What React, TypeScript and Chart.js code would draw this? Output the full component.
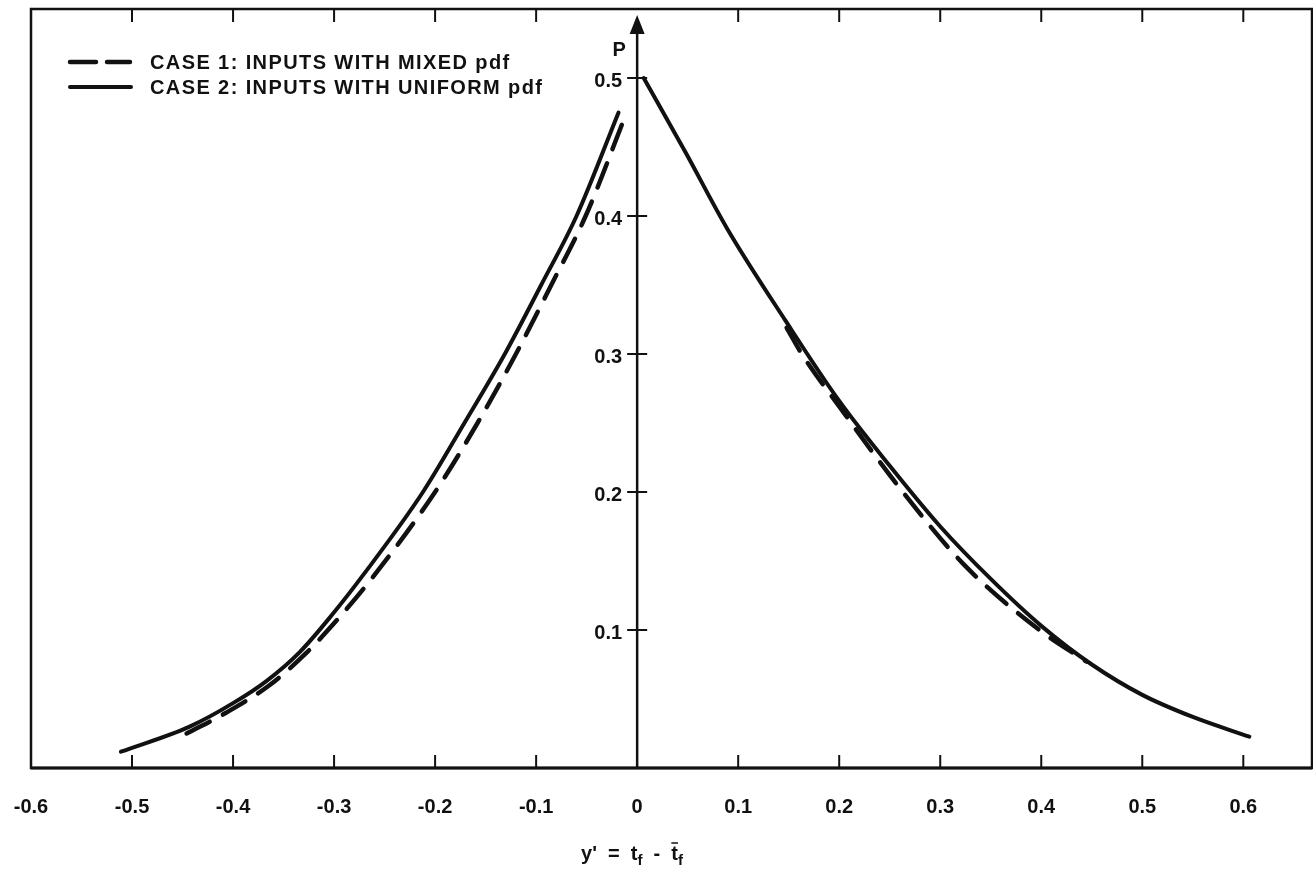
import React, { useEffect, useRef } from 'react';
import { Chart, registerables } from 'chart.js';

Chart.register(...registerables);

// ---- data ----
const xTickValues = [-0.6, -0.5, -0.4, -0.3, -0.2, -0.1, 0, 0.1, 0.2, 0.3, 0.4, 0.5, 0.6];
const yTickValues = [0.1, 0.2, 0.3, 0.4, 0.5];

const legendLabels = ['CASE 1: INPUTS WITH MIXED pdf', 'CASE 2: INPUTS WITH UNIFORM pdf'];

// Case 1 (dashed) – mixed pdf
const case1LeftX = [-0.446, -0.407, -0.364, -0.328, -0.295, -0.262, -0.2, -0.158, -0.12, -0.085, -0.051, -0.0104];
const case1LeftP = [0.025, 0.04, 0.06, 0.083, 0.109, 0.138, 0.2, 0.25, 0.3, 0.35, 0.4, 0.475];
const case1RightX = [0.148, 0.163, 0.2, 0.263, 0.324, 0.4, 0.445];
const case1RightP = [0.319, 0.3, 0.262, 0.2, 0.147, 0.099, 0.077];

// Case 2 (solid) – uniform pdf
const case2LeftX = [-0.511, -0.443, -0.4, -0.367, -0.334, -0.302, -0.27, -0.212, -0.171, -0.131, -0.095, -0.06, -0.0184];
const case2LeftP = [0.0118, 0.03, 0.047, 0.063, 0.084, 0.111, 0.141, 0.2, 0.25, 0.3, 0.35, 0.4, 0.475];
const case2RightX = [0.0065, 0.048, 0.089, 0.147, 0.2, 0.25, 0.3, 0.35, 0.4, 0.45, 0.5, 0.55, 0.606];
const case2RightP = [0.5, 0.446, 0.391, 0.324, 0.266, 0.219, 0.175, 0.137, 0.103, 0.075, 0.053, 0.037, 0.0227];

const FONT = '"Liberation Sans", Arial, sans-serif';
const INK = '#111111';

function pts(xs: number[], ys: number[]) {
  return xs.map((x, i) => ({ x, y: ys[i] }));
}

function seg(ctx: CanvasRenderingContext2D, x1: number, y1: number, x2: number, y2: number) {
  ctx.beginPath();
  ctx.moveTo(x1, y1);
  ctx.lineTo(x2, y2);
  ctx.stroke();
}

const decor = {
  id: 'decor',
  afterDraw(chart: any) {
    const { ctx, chartArea: a, scales } = chart;
    const xs = scales.x;
    const ys = scales.y;
    ctx.save();
    ctx.strokeStyle = INK;
    ctx.fillStyle = INK;
    ctx.lineCap = 'butt';

    // frame
    ctx.lineWidth = 2.5;
    ctx.strokeRect(a.left, a.top, a.right - a.left, a.bottom - a.top);
    ctx.lineWidth = 3;
    seg(ctx, a.left, a.bottom, a.right, a.bottom);

    // inward tick marks on top and bottom
    ctx.lineWidth = 2;
    for (const v of xTickValues) {
      if (v === 0 || v <= -0.6) continue;
      const px = xs.getPixelForValue(v);
      seg(ctx, px, a.top, px, a.top + 13);
      seg(ctx, px, a.bottom, px, a.bottom - 13);
    }

    // vertical P axis with arrow
    const x0 = xs.getPixelForValue(0);
    ctx.lineWidth = 2.5;
    seg(ctx, x0, a.bottom, x0, 30);
    ctx.beginPath();
    ctx.moveTo(x0, 15);
    ctx.lineTo(x0 - 7.5, 34);
    ctx.lineTo(x0 + 7.5, 34);
    ctx.closePath();
    ctx.fill();

    // crossing ticks and labels on P axis
    ctx.font = `bold 20px ${FONT}`;
    ctx.textAlign = 'right';
    ctx.textBaseline = 'middle';
    for (const v of yTickValues) {
      const py = ys.getPixelForValue(v);
      ctx.lineWidth = 2;
      seg(ctx, x0 - 10, py, x0 + 10, py);
      ctx.fillText(v.toFixed(1), x0 - 15, py + 3);
    }

    // axis name P
    ctx.textAlign = 'center';
    ctx.fillText('P', x0 - 18, 50);

    // legend
    const rows = [62, 87];
    ctx.lineWidth = 4.5;
    ctx.lineCap = 'round';
    ctx.setLineDash([26, 11]);
    seg(ctx, 70, rows[0], 130, rows[0]);
    ctx.setLineDash([]);
    ctx.lineWidth = 4;
    seg(ctx, 70, rows[1], 131, rows[1]);
    ctx.font = `bold 20px ${FONT}`;
    ctx.textAlign = 'left';
    ctx.textBaseline = 'middle';
    (ctx as any).letterSpacing = '1.4px';
    ctx.fillText(legendLabels[0], 150, rows[0] + 1);
    ctx.fillText(legendLabels[1], 150, rows[1] + 1);
    (ctx as any).letterSpacing = '0px';

    // x-axis title:  y' = t_f - t̄_f
    const big = `bold 20px ${FONT}`;
    const small = `bold 15px ${FONT}`;
    const base = 860;
    const parts: { t: string; f: string; dy: number; bar?: boolean }[] = [
      { t: "y'  =  t", f: big, dy: 0 },
      { t: 'f', f: small, dy: 5 },
      { t: '  -  ', f: big, dy: 0 },
      { t: 't', f: big, dy: 0, bar: true },
      { t: 'f', f: small, dy: 5 },
    ];
    let total = 0;
    const widths = parts.map((p) => {
      ctx.font = p.f;
      const w = ctx.measureText(p.t).width;
      total += w;
      return w;
    });
    let cx = 632 - total / 2;
    ctx.textAlign = 'left';
    ctx.textBaseline = 'alphabetic';
    parts.forEach((p, i) => {
      ctx.font = p.f;
      ctx.fillText(p.t, cx, base + p.dy);
      if (p.bar) {
        ctx.lineWidth = 1.5;
        ctx.lineCap = 'butt';
        seg(ctx, cx, base - 17, cx + widths[i], base - 17);
      }
      cx += widths[i];
    });

    ctx.restore();
  },
};

export default function App() {
  const ref = useRef<HTMLCanvasElement>(null);

  useEffect(() => {
    const canvas = ref.current;
    if (!canvas) return;
    const chart = new Chart(canvas, {
      type: 'line',
      data: {
        datasets: [
          {
            label: legendLabels[0],
            data: [...pts(case1LeftX, case1LeftP), { x: 0, y: null as any }, ...pts(case1RightX, case1RightP)],
            borderColor: INK,
            borderWidth: 4.5,
            borderDash: [26, 15],
            borderCapStyle: 'round',
            cubicInterpolationMode: 'monotone',
            spanGaps: false,
            pointRadius: 0,
            fill: false,
          },
          {
            label: legendLabels[1],
            data: [...pts(case2LeftX, case2LeftP), { x: 0, y: null as any }, ...pts(case2RightX, case2RightP)],
            borderColor: INK,
            borderWidth: 4,
            borderCapStyle: 'round',
            cubicInterpolationMode: 'monotone',
            spanGaps: false,
            pointRadius: 0,
            fill: false,
          },
        ],
      },
      options: {
        responsive: false,
        devicePixelRatio: 1,
        animation: false,
        layout: { padding: { left: 31, right: 1, top: 9, bottom: 0 } },
        plugins: {
          legend: { display: false },
          tooltip: { enabled: false },
        },
        scales: {
          x: {
            type: 'linear',
            min: -0.6,
            max: 0.668,
            grid: { display: false },
            border: { display: false },
            afterBuildTicks: (scale: any) => {
              scale.ticks = xTickValues.map((v) => ({ value: v }));
            },
            afterFit: (scale: any) => {
              scale.height = 102;
              scale.paddingLeft = 0;
              scale.paddingRight = 0;
            },
            ticks: {
              autoSkip: false,
              maxRotation: 0,
              padding: 19,
              color: INK,
              font: { family: FONT, weight: 'bold', size: 20 },
              callback: (v: any) => (Number(v) === 0 ? '0' : Number(v).toFixed(1)),
            },
          },
          y: {
            type: 'linear',
            display: false,
            min: 0,
            max: 0.55,
          },
        },
      } as any,
      plugins: [decor],
    });
    return () => chart.destroy();
  }, []);

  return (
    <div style={{ position: 'fixed', left: 0, top: 0, width: 1313, height: 870, background: '#ffffff' }}>
      <canvas ref={ref} width={1313} height={870} style={{ display: 'block', width: 1313, height: 870 }} />
    </div>
  );
}
